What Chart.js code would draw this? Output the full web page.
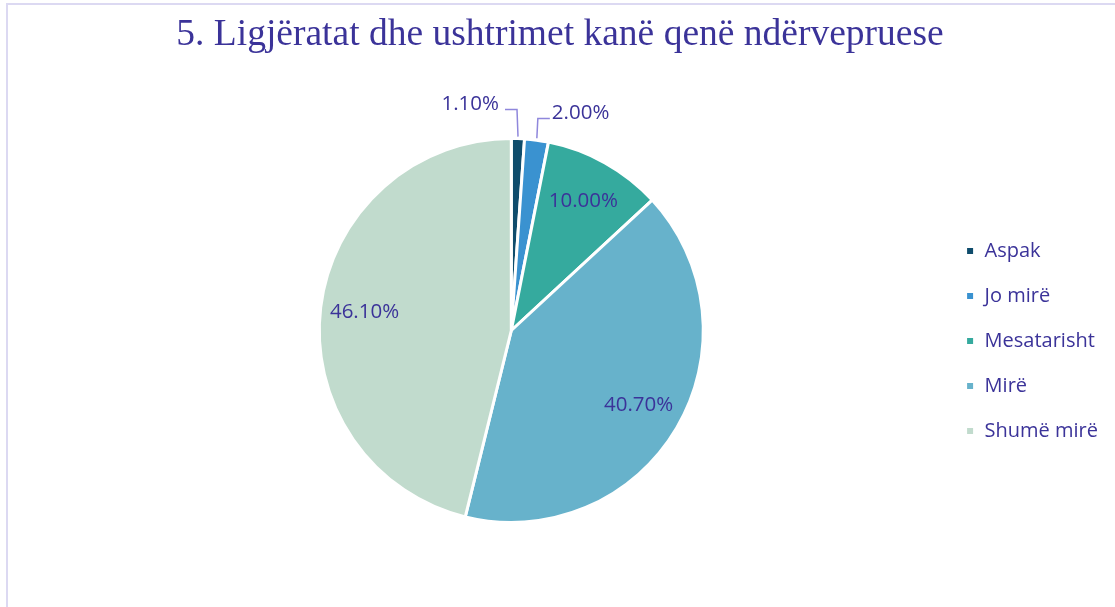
<!DOCTYPE html>
<html>
<head>
<meta charset="utf-8">
<script src="https://cdn.jsdelivr.net/npm/chart.js@4"></script>
<style>
  body { margin: 0; background: #fff; }
  #wrap { position: relative; width: 1115px; height: 607px; }
  #frame { position: absolute; left: 6px; top: 3px; right: 0; bottom: 0; border-top: 2px solid #dcd9f2; border-left: 2px solid #dcd9f2; }
  canvas { position: absolute; left: 0; top: 0; }
</style>
</head>
<body>
<div id="wrap">
  <div id="frame"></div>
  <canvas id="myChart" width="1115" height="607"></canvas>
</div>
<script>
const title = "5. Ligjëratat dhe ushtrimet kanë qenë ndërvepruese";
const categories = ["Aspak", "Jo mirë", "Mesatarisht", "Mirë", "Shumë mirë"];
const values = [1.1, 2.0, 10.0, 40.7, 46.1];
const colors = ["#0f4c6c", "#3a92d0", "#35aa9e", "#67b2cb", "#c1dbcd"];

const textColor = "#3b3399";

// etiketat e përqindjeve, brenda ose jashtë fetave
const pieLabels = {
    id: 'pieLabels',
    afterLayout(chart) {
        // titulli qendrohet mbi gjithë kornizën, jo vetëm mbi byrekun
        chart.titleBlock.left = 14;
        chart.titleBlock.right = 1106;
    },
    afterDatasetsDraw(chart) {
        const ctx = chart.ctx;
        const arcs = chart.getDatasetMeta(0).data;
        ctx.save();
        ctx.font = '20.5px "Open Sans"';
        ctx.fillStyle = textColor;
        ctx.textBaseline = 'middle';
        let side = -1;
        arcs.forEach((arc, i) => {
            const p = arc.getProps(['x', 'y', 'startAngle', 'endAngle', 'outerRadius'], true);
            const mid = (p.startAngle + p.endAngle) / 2;
            const txt = values[i].toFixed(2) + '%';
            if (values[i] < 5) {
                const ex = p.x + Math.cos(mid) * (p.outerRadius + 2);
                const ey = p.y + Math.sin(mid) * (p.outerRadius + 2);
                const ly = side < 0 ? p.y - p.outerRadius - 29 : p.y - p.outerRadius - 20;
                const lx = ex + side * 13;
                ctx.strokeStyle = '#8f87dc';
                ctx.lineWidth = 1.5;
                ctx.beginPath();
                ctx.moveTo(ex, ey);
                ctx.lineTo(ex + side * 1, ly);
                ctx.lineTo(lx, ly);
                ctx.stroke();
                ctx.textAlign = side < 0 ? 'right' : 'left';
                ctx.fillText(txt, lx + (side < 0 ? -6 : 2), ly - 5);
                side = 1;
            } else {
                const r = p.outerRadius * 0.77;
                ctx.textAlign = 'center';
                ctx.fillText(txt, p.x + Math.cos(mid) * r, p.y + Math.sin(mid) * r);
            }
        });
        ctx.restore();
    }
};

new Chart(document.getElementById('myChart'), {
    type: 'pie',
    data: {
        labels: categories,
        datasets: [{
            data: values,
            backgroundColor: colors,
            borderColor: '#ffffff',
            borderWidth: 3
        }]
    },
    options: {
        responsive: false,
        animation: false,
        layout: { padding: { left: 82, right: 7, top: 3, bottom: 83 } },
        plugins: {
            title: {
                display: true,
                text: title,
                color: textColor,
                font: { family: '"Liberation Serif"', size: 37.5, weight: 'normal' },
                padding: { top: 10, bottom: 79 }
            },
            legend: {
                position: 'right',
                fullSize: false,
                title: { display: true, text: '', padding: { top: 10, bottom: 10 }, font: { size: 1 } },
                labels: {
                    boxWidth: 9,
                    boxHeight: 9,
                    padding: 25,
                    color: textColor,
                    font: { family: '"Open Sans"', size: 20 }
                }
            },
            tooltip: { enabled: false }
        }
    },
    plugins: [pieLabels]
});
</script>
</body>
</html>
